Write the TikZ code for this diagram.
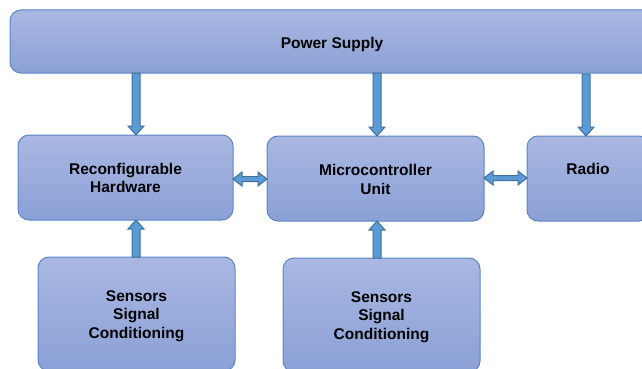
\documentclass[tikz,border=0pt]{standalone}
\usepackage{fontspec}
\setmainfont{Liberation Sans}
\usetikzlibrary{calc}
\definecolor{boxtop}{HTML}{AAB8E2}
\definecolor{boxbot}{HTML}{8AA0D6}
\definecolor{boxline}{HTML}{5B84C8}
\definecolor{arrfill}{HTML}{5B9BD5}
\definecolor{arrline}{HTML}{41719C}
\tikzset{
  block/.style={draw=boxline, line width=1pt, rounded corners=11pt,
    top color=boxtop, bottom color=boxbot, minimum width=#1},
  label/.style={font=\bfseries\fontsize{15.5}{18.5}\selectfont, align=center, text=black},
  barrow/.style={draw=arrline, fill=arrfill, line width=1pt, line join=miter}
}
% vertical block arrow from #1 to #2; #3 = +1 points down, -1 points up
\newcommand\vblockarrow[3]{%
  \draw[barrow] ($(#1)+(-4,0)$) -- ($(#2)+(-4,-9*#3)$) -- ($(#2)+(-8,-9*#3)$)
    -- (#2) -- ($(#2)+(8,-9*#3)$) -- ($(#2)+(4,-9*#3)$) -- ($(#1)+(4,0)$) -- cycle;}
% horizontal double-headed block arrow between #1 (left) and #2 (right)
\newcommand\hblockarrow[2]{%
  \draw[barrow] (#1) -- ($(#1)+(9,-7)$) -- ($(#1)+(9,-2.5)$) -- ($(#2)+(-9,-2.5)$)
    -- ($(#2)+(-9,-7)$) -- (#2) -- ($(#2)+(-9,7)$) -- ($(#2)+(-9,2.5)$)
    -- ($(#1)+(9,2.5)$) -- ($(#1)+(9,7)$) -- cycle;}
\begin{document}
\begin{tikzpicture}[x=1pt,y=-1pt]
\useasboundingbox (0,0) rectangle (642,369);
\clip (0,0) rectangle (642,369);

% blocks
\path[block] (10,10) rectangle (654,73);
\node[label] (ps) at (332,44.5) {Power Supply};

\path[block] (18,135) rectangle (233,220);
\coordinate (rhN) at (136,135);
\coordinate (rhS) at (136,220);
\coordinate (rhE) at (233,179);
\node[label] (rh) at (125.5,178) {Reconfigurable\\Hardware};

\path[block] (267,136) rectangle (484,221);
\coordinate (mcN) at (377,136);
\coordinate (mcS) at (377,221);
\coordinate (mcW) at (267,179);
\coordinate (mcE) at (484,178);
\node[label] (mc) at (375.5,179.5) {Microcontroller\\Unit};

\path[block] (527,136) rectangle (650,221);
\coordinate (raN) at (586,136);
\coordinate (raW) at (527,178);
\node[label] (ra) at (588,169) {Radio};

\path[block] (38,257) rectangle (235,371);
\coordinate (s1N) at (136,257);
\node[label] (s1) at (136.5,316) {Sensors\\Signal\\Conditioning};

\path[block] (283,258) rectangle (480,372);
\coordinate (s2N) at (377,258);
\node[label] (s2) at (381.5,317) {Sensors\\Signal\\Conditioning};

% power feeds
\coordinate (p1) at (136,73);
\coordinate (p2) at (377,73);
\coordinate (p3) at (586,74);
\vblockarrow{p1}{rhN}{1}
\vblockarrow{p2}{mcN}{1}
\vblockarrow{p3}{raN}{1}

% sensor inputs
\vblockarrow{s1N}{rhS}{-1}
\vblockarrow{s2N}{mcS}{-1}

% data links
\hblockarrow{rhE}{mcW}
\hblockarrow{mcE}{raW}
\end{tikzpicture}
\end{document}
